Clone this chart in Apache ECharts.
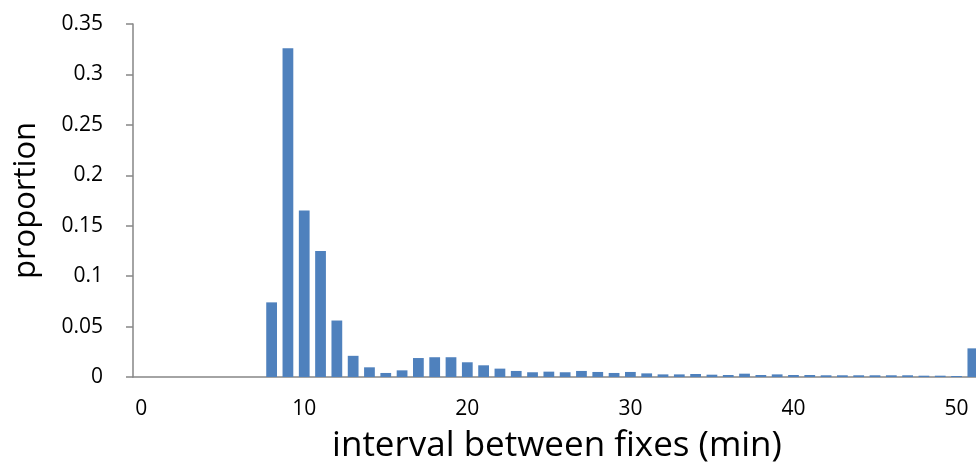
<!DOCTYPE html>
<html>
<head>
<meta charset="utf-8">
<script src="https://cdn.jsdelivr.net/npm/echarts@6/dist/echarts.min.js"></script>
<style>
  html, body { margin: 0; padding: 0; background: #fff; }
  #container { width: 976px; height: 467px; }
</style>
</head>
<body>
<div id="container"></div>
<script>
var minutes = [];
for (var m = 0; m <= 51; m++) minutes.push(String(m));

var proportion = [
    0, 0, 0, 0, 0, 0, 0, 0,
    0.074, 0.326, 0.165, 0.125, 0.056, 0.021, 0.0096,
    0.004, 0.0066, 0.0188, 0.0196, 0.0196, 0.0146,
    0.0116, 0.0083, 0.006, 0.0047, 0.0053, 0.0047, 0.006, 0.005, 0.004, 0.005,
    0.0036, 0.0026, 0.0026, 0.003, 0.0023, 0.002, 0.0033, 0.002, 0.0026, 0.002,
    0.002, 0.0017, 0.0017, 0.0017, 0.0017, 0.0017, 0.0017, 0.0013, 0.0013, 0.001,
    0.0284
];

var yTicks = [0, 0.05, 0.1, 0.15, 0.2, 0.25, 0.3, 0.35];

var dom = document.getElementById("container");
var myChart = echarts.init(dom);
var option;

var font = 'Open Sans';
var axisGrey = '#868686';

option = {
    animation: false,
    grid: {
        left: 133,
        right: -5,
        top: 24,
        bottom: 90,
        outerBoundsMode: 'none',
        containLabel: false
    },
    xAxis: {
        type: 'category',
        data: minutes,
        name: 'interval between fixes (min)',
        nameLocation: 'middle',
        nameGap: 52,
        nameTextStyle: { fontFamily: font, fontSize: 35, color: '#000' },
        axisLine: { lineStyle: { color: axisGrey, width: 1.5 } },
        axisTick: { interval: 0, length: 7, lineStyle: { color: axisGrey, width: 1.5 } },
        axisLabel: {
            interval: 9,
            margin: 22,
            fontFamily: font,
            fontSize: 21,
            color: '#000'
        }
    },
    yAxis: {
        type: 'value',
        min: 0,
        max: yTicks[yTicks.length - 1],
        interval: 0.05,
        name: 'proportion',
        nameLocation: 'middle',
        nameGap: 91,
        nameTextStyle: { fontFamily: font, fontSize: 31, color: '#000' },
        axisLine: { show: true, lineStyle: { color: axisGrey, width: 1.5 } },
        axisTick: { show: true, length: 7, lineStyle: { color: axisGrey, width: 1.5 } },
        splitLine: { show: false },
        axisLabel: {
            margin: 30,
            fontFamily: font,
            fontSize: 21,
            color: '#000',
            formatter: function (v) { return String(parseFloat(v.toFixed(2))); }
        }
    },
    series: [
        {
            type: 'bar',
            data: proportion,
            barWidth: '66%',
            itemStyle: { color: '#4f81bd' }
        }
    ]
};

myChart.setOption(option);
</script>
</body>
</html>
